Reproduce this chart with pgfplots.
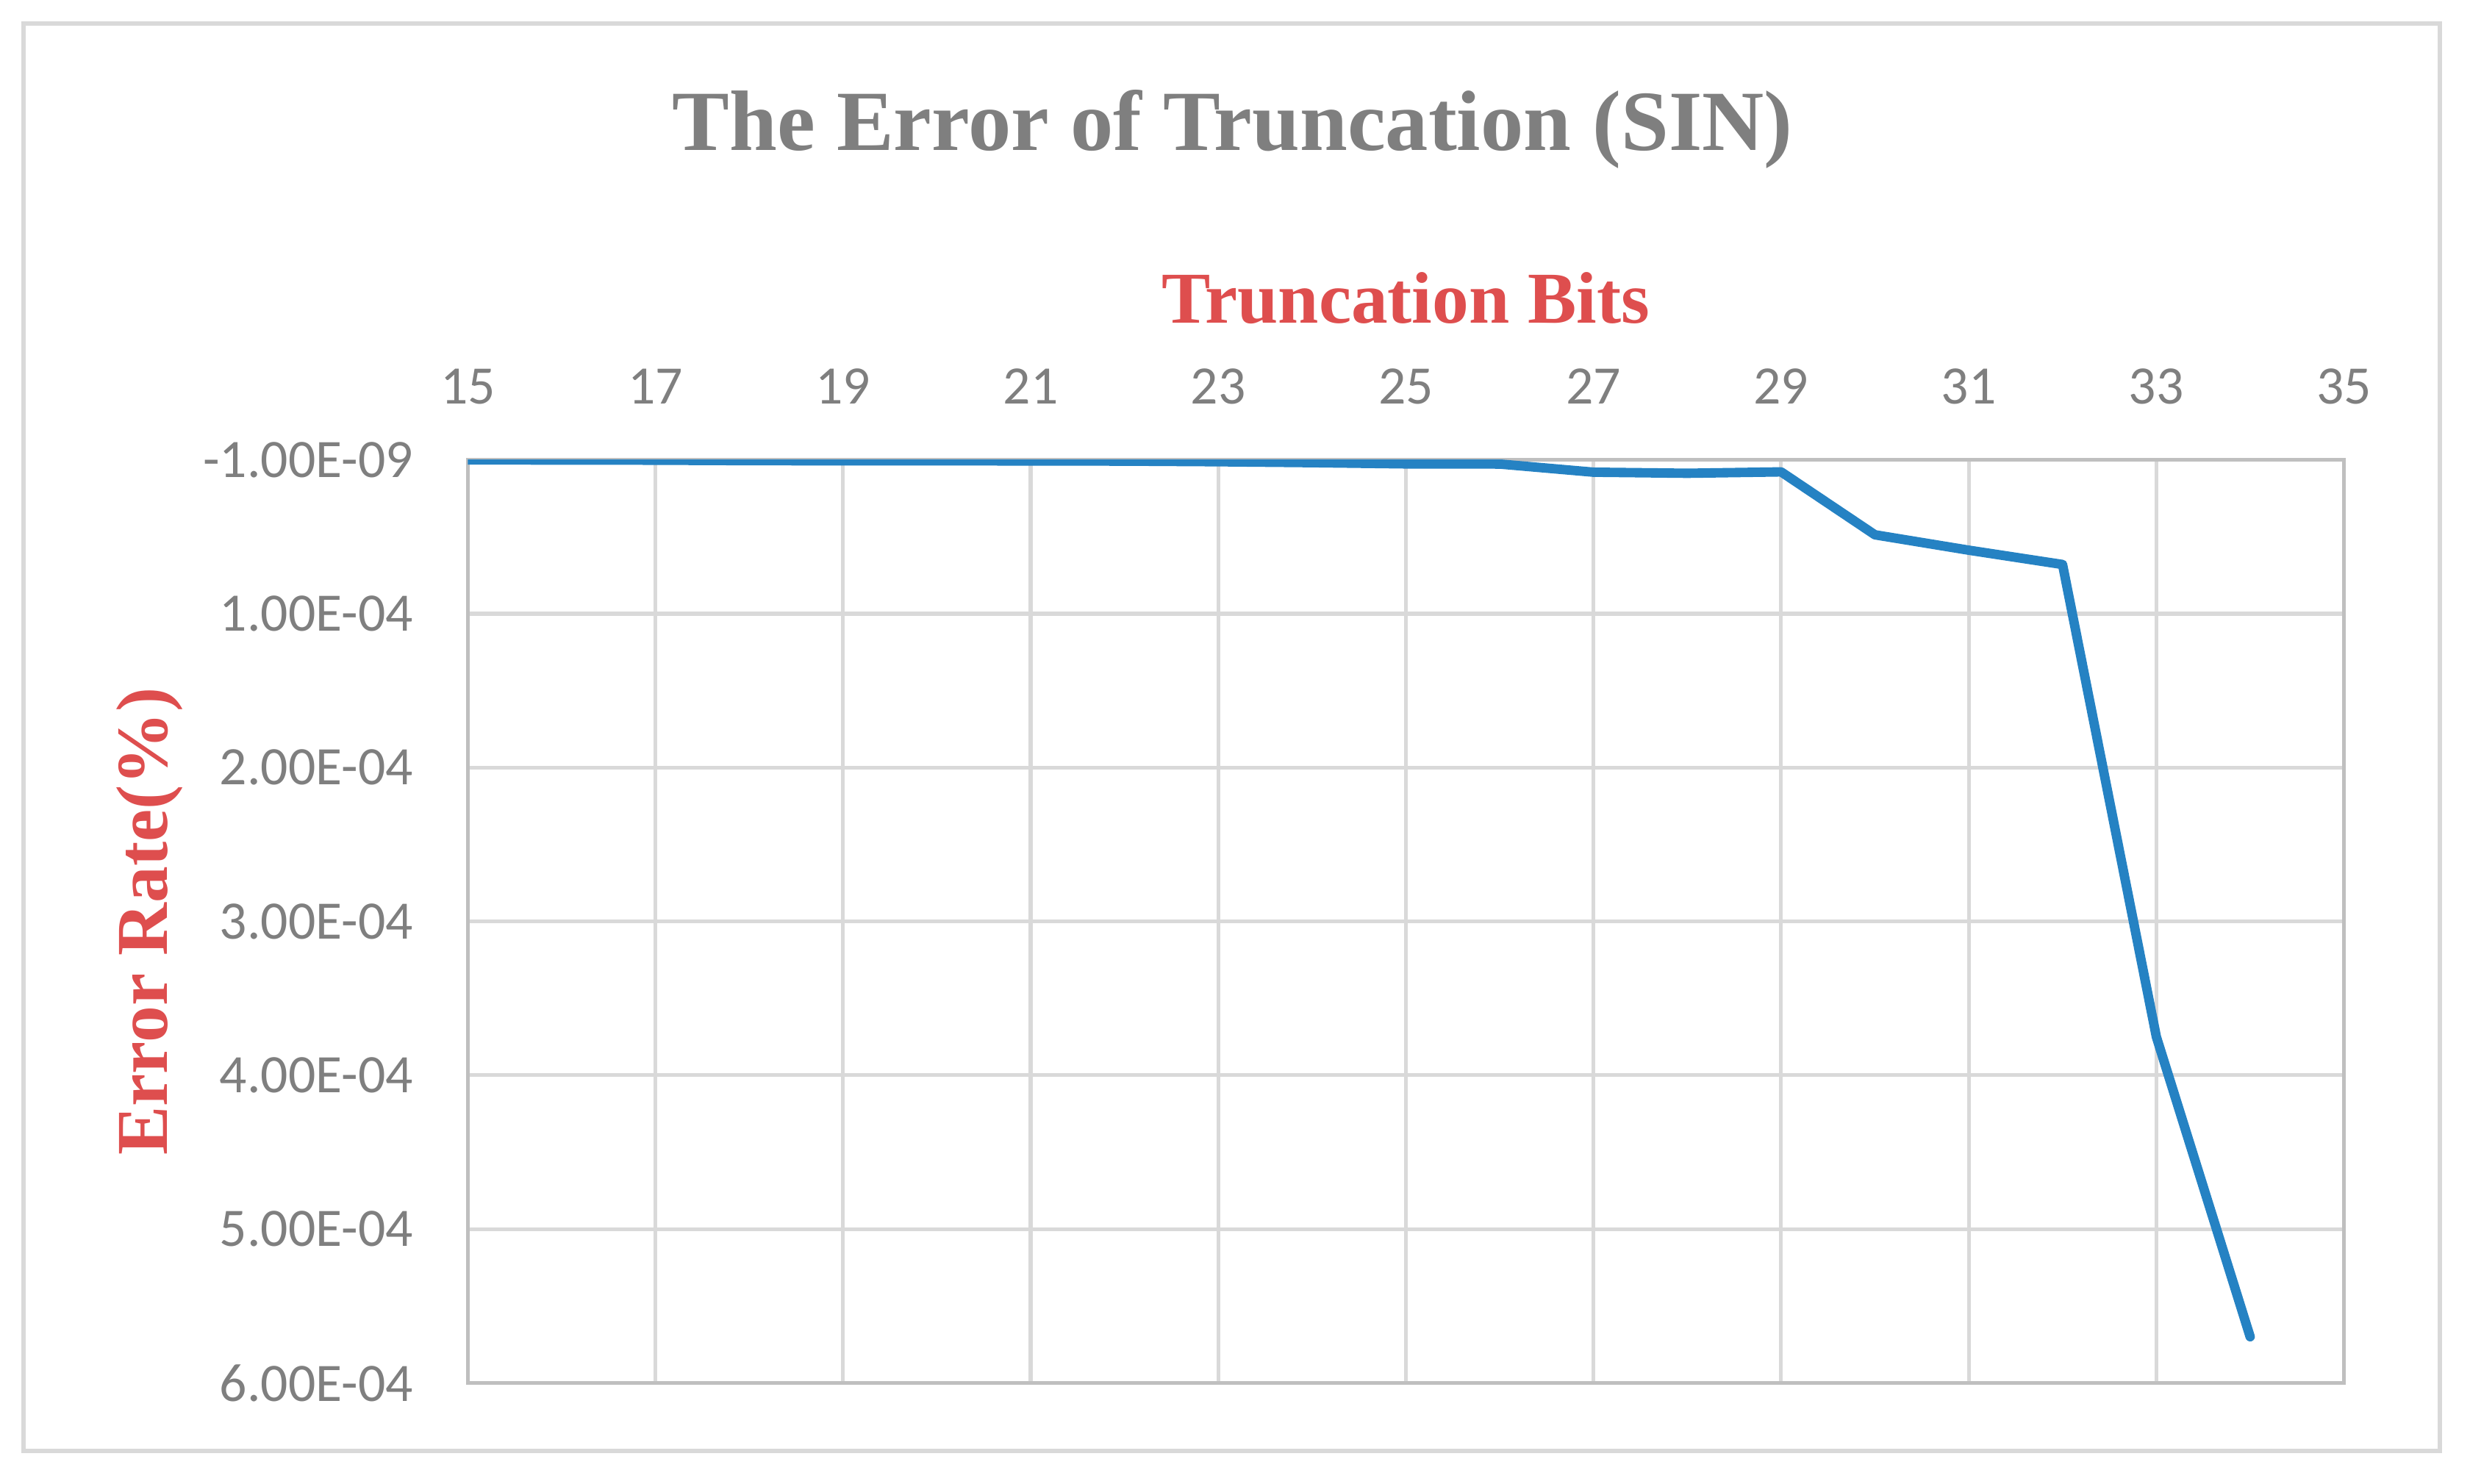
\documentclass[border=0pt]{standalone}
\usepackage{fontspec}
\setmainfont{Liberation Serif}
\newfontfamily\calibri{Carlito}
\usepackage{pgfplots}
\pgfplotsset{compat=1.18}

\definecolor{linecol}{RGB}{37,130,195}
\definecolor{labred}{RGB}{222,78,78}
\definecolor{txtgray}{RGB}{127,127,127}
\definecolor{axgray}{RGB}{191,191,191}
\definecolor{gridgray}{RGB}{217,217,217}

\begin{document}
\begin{tikzpicture}
\path[use as bounding box] (0,0) rectangle (392pt,235.5pt);
\draw[gridgray, line width=0.7pt] (3.75pt,5.25pt) rectangle (387.25pt,231.75pt);

\begin{axis}[
    at={(74.25pt,16pt)}, anchor=south west,
    scale only axis, width=297.75pt, height=146.5pt,
    xmin=15, xmax=35, ymin=-1e-9, ymax=6e-4,
    y dir=reverse,
    xtick={15,17,...,35},
    ytick={-1e-9,1e-4,2e-4,3e-4,4e-4,5e-4,6e-4},
    yticklabels={-1.00E-09,1.00E-04,2.00E-04,3.00E-04,4.00E-04,5.00E-04,6.00E-04},
    scaled y ticks=false,
    xticklabel pos=right,
    grid=major,
    major grid style={gridgray, line width=0.6pt},
    axis line style={axgray, line width=0.65pt},
    major tick length=0pt,
    /pgf/number format/assume math mode=true,
    tick label style={font=\calibri\fontsize{8.6}{10}\selectfont, text=txtgray, inner sep=0pt},
    xticklabel style={anchor=base, yshift=8.9pt},
    yticklabel style={anchor=east, xshift=-8.5pt},
  ]
  \addplot[linecol, line width=1.5pt, line join=round, line cap=round] coordinates {
    (15, 0)
    (16, 0.1e-6)
    (17, 0.2e-6)
    (18, 0.5e-6)
    (19, 0.6e-6)
    (20, 0.6e-6)
    (21, 0.7e-6)
    (22, 0.8e-6)
    (23, 1.2e-6)
    (24, 1.8e-6)
    (25, 2.6e-6)
    (26, 2.7e-6)
    (27, 8.0e-6)
    (28, 8.7e-6)
    (29, 7.8e-6)
    (30, 4.87e-5)
    (31, 5.87e-5)
    (32, 6.8e-5)
    (33, 3.75e-4)
    (34, 5.7e-4)
  };
\end{axis}

\node[anchor=base, text=txtgray, font=\bfseries\fontsize{13.6}{16}\selectfont]
  at (195.6pt,211.65pt) {The Error of Truncation (SIN)};
\node[anchor=base, text=labred, font=\bfseries\fontsize{11.6}{14}\selectfont]
  at (223.1pt,184.2pt) {Truncation Bits};
\node[anchor=base, rotate=90, text=labred, font=\bfseries\fontsize{11.6}{14}\selectfont]
  at (26.55pt,89.25pt) {Error Rate(\%)};
\end{tikzpicture}
\end{document}
